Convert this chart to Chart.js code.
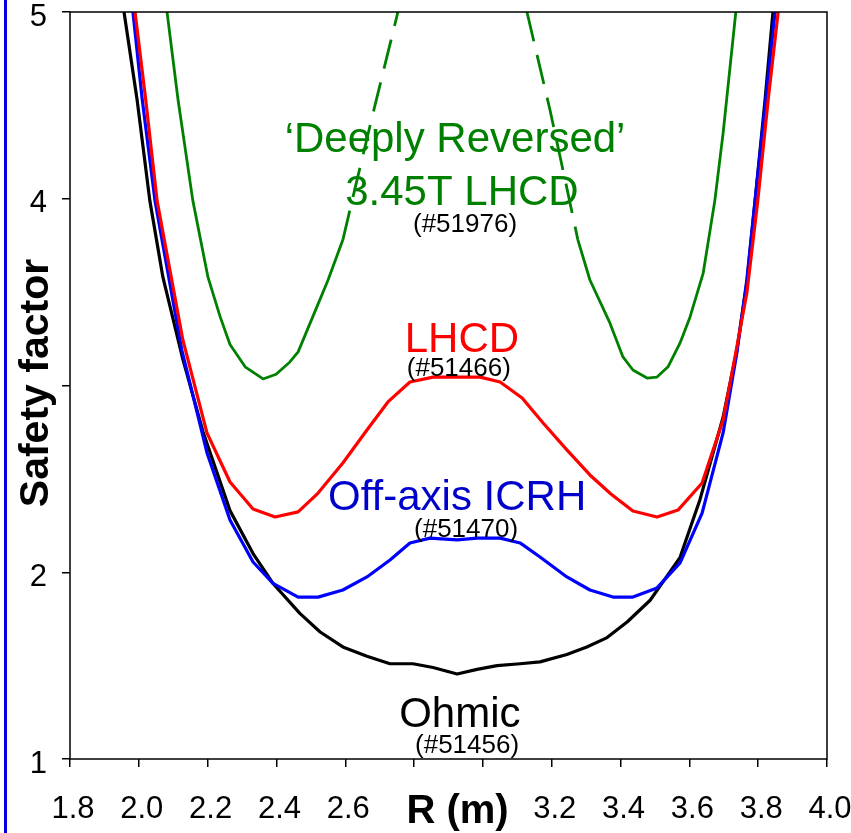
<!DOCTYPE html>
<html>
<head>
<meta charset="utf-8">
<script src="https://cdn.jsdelivr.net/npm/chart.js@4.4.0/dist/chart.umd.min.js"></script>
<style>
body { margin: 0; background: #fff; }
#wrap { position: relative; width: 851px; height: 833px; }
#q_chart { position: absolute; left: 0; top: 0; }
#edge { position: absolute; left: 4px; top: 0; width: 3px; height: 833px; background: #0000dd; }
</style>
</head>
<body>
<div id="wrap">
<canvas id="q_chart" width="851" height="833"></canvas>
<div id="edge"></div>
</div>
<script>
/* q profiles: R (m) against safety factor */

// Ohmic (#51456)
const ohmic_r = [1.957, 1.995, 2.032, 2.070, 2.128, 2.187, 2.265, 2.332, 2.390, 2.468, 2.527, 2.593, 2.663, 2.730, 2.797, 2.855, 2.925, 2.983, 3.041, 3.108, 3.166, 3.244, 3.302, 3.361, 3.420, 3.486, 3.573, 3.631, 3.698, 3.738, 3.767, 3.791, 3.820, 3.843];
const ohmic_q = [5.00, 4.53, 3.99, 3.58, 3.14, 2.75, 2.33, 2.10, 1.94, 1.78, 1.68, 1.60, 1.55, 1.51, 1.51, 1.49, 1.455, 1.48, 1.50, 1.51, 1.52, 1.56, 1.60, 1.65, 1.735, 1.85, 2.08, 2.39, 2.83, 3.19, 3.55, 3.99, 4.53, 5.00];

// Off-axis ICRH (#51470)
const icrh_r = [1.983, 2.010, 2.047, 2.125, 2.198, 2.265, 2.332, 2.390, 2.463, 2.521, 2.593, 2.663, 2.730, 2.788, 2.846, 2.925, 2.983, 3.050, 3.108, 3.166, 3.244, 3.311, 3.378, 3.436, 3.506, 3.573, 3.637, 3.698, 3.738, 3.767, 3.791, 3.822, 3.849];
const icrh_q = [5.00, 4.53, 3.99, 3.19, 2.64, 2.28, 2.055, 1.94, 1.867, 1.867, 1.905, 1.975, 2.066, 2.157, 2.183, 2.173, 2.183, 2.183, 2.157, 2.082, 1.975, 1.905, 1.867, 1.867, 1.916, 2.050, 2.317, 2.746, 3.174, 3.565, 3.993, 4.53, 5.00];

// LHCD (#51466)
const lhcd_r = [1.989, 2.020, 2.053, 2.128, 2.198, 2.265, 2.332, 2.396, 2.463, 2.521, 2.593, 2.663, 2.724, 2.788, 2.855, 2.925, 2.992, 3.050, 3.114, 3.175, 3.244, 3.311, 3.372, 3.436, 3.506, 3.567, 3.637, 3.698, 3.738, 3.767, 3.799, 3.829, 3.858];
const lhcd_q = [5.00, 4.53, 3.99, 3.244, 2.746, 2.483, 2.339, 2.296, 2.323, 2.424, 2.585, 2.762, 2.912, 3.019, 3.045, 3.045, 3.045, 3.019, 2.933, 2.799, 2.655, 2.521, 2.419, 2.328, 2.296, 2.333, 2.478, 2.815, 3.206, 3.495, 3.993, 4.53, 5.00];

// 'Deeply Reversed' 3.45T LHCD (#51976), null = break between the two core branches
const drev_r = [2.082, 2.114, 2.157, 2.201, 2.236, 2.265, 2.309, 2.361, 2.399, 2.439, 2.463, 2.506, 2.550, 2.593, 2.634, 2.681, 2.753, 2.94, 3.128, 3.195, 3.239, 3.276, 3.311, 3.369, 3.407, 3.436, 3.477, 3.506, 3.538, 3.573, 3.602, 3.640, 3.674, 3.698, 3.735];
const drev_q = [5.00, 4.53, 3.99, 3.58, 3.37, 3.22, 3.10, 3.035, 3.06, 3.126, 3.18, 3.37, 3.565, 3.78, 4.10, 4.46, 5.00, null, 5.00, 4.475, 4.10, 3.78, 3.565, 3.335, 3.153, 3.083, 3.04, 3.045, 3.10, 3.228, 3.367, 3.60, 3.99, 4.35, 5.00];

// axis ticks
const r_ticks_hidden = [2.8, 3.0];
const q_ticks_hidden = [3];

function toPoints(rs, qs) {
    return rs.map((r, i) => ({x: r, y: qs[i]}));
}

// dashed where the reversed profile climbs out near the axis
function coreDash(ctx) {
    const a = ctx.p0.parsed.x, b = ctx.p1.parsed.x;
    if (a > 2.57 && b < 3.29) return [30, 14];
    return undefined;
}

// text written on the plot
const bigFont = '42px "Liberation Sans", Arial, sans-serif';
const shotFont = '26px "Liberation Sans", Arial, sans-serif';
const notes = [
    {text: '\u2018Deeply Reversed\u2019', r: 2.919, q: 4.25, color: '#008000', font: bigFont, base: 'alphabetic'},
    {text: '3.45T LHCD', r: 2.939, q: 3.967, color: '#008000', font: bigFont, base: 'alphabetic'},
    {text: '(#51976)', r: 2.948, q: 3.859, color: '#000', font: shotFont, base: 'middle'},
    {text: 'LHCD', r: 2.939, q: 3.179, color: '#ff0000', font: bigFont, base: 'alphabetic'},
    {text: '(#51466)', r: 2.930, q: 3.088, color: '#000', font: shotFont, base: 'middle'},
    {text: 'Off-axis ICRH', r: 2.925, q: 2.333, color: '#0000cc', font: bigFont, base: 'alphabetic'},
    {text: '(#51470)', r: 2.951, q: 2.226, color: '#000', font: shotFont, base: 'middle'},
    {text: 'Ohmic', r: 2.933, q: 1.171, color: '#000', font: bigFont, base: 'alphabetic'},
    {text: '(#51456)', r: 2.954, q: 1.070, color: '#000', font: shotFont, base: 'middle'},
];

const framePlugin = {
    id: 'frame',
    afterDatasetsDraw(chart) {
        const {ctx, scales} = chart;
        ctx.save();
        ctx.textAlign = 'center';
        notes.forEach((n) => {
            ctx.font = n.font;
            ctx.fillStyle = n.color;
            ctx.textBaseline = n.base;
            ctx.fillText(n.text, scales.x.getPixelForValue(n.r), scales.y.getPixelForValue(n.q));
        });
        ctx.restore();
    },
    afterDraw(chart) {
        const {ctx, chartArea: a} = chart;
        ctx.save();
        ctx.strokeStyle = '#000';
        ctx.lineWidth = 1.5;
        ctx.strokeRect(a.left, a.top, a.right - a.left, a.bottom - a.top);
        // axis titles
        ctx.fillStyle = '#000';
        ctx.font = 'bold 40px "Liberation Sans", Arial, sans-serif';
        ctx.textAlign = 'center';
        ctx.textBaseline = 'alphabetic';
        ctx.fillText('R (m)', (a.left + a.right) / 2 + 9, 823);
        ctx.translate(48, 383);
        ctx.rotate(-Math.PI / 2);
        ctx.font = 'bold 41px "Liberation Sans", Arial, sans-serif';
        ctx.fillText('Safety factor', 0, 0);
        ctx.restore();
    }
};

const tickFont = {family: '"Liberation Sans", Arial, sans-serif', size: 31};

const q_config = {
    type: 'scatter',
    data: {
        datasets: [
            {label: 'Deeply Reversed', data: toPoints(drev_r, drev_q), borderColor: '#008000', borderWidth: 2.8,
             segment: {borderDash: coreDash}},
            {label: 'LHCD', data: toPoints(lhcd_r, lhcd_q), borderColor: '#ff0000', borderWidth: 3.2},
            {label: 'Off-axis ICRH', data: toPoints(icrh_r, icrh_q), borderColor: '#0000ff', borderWidth: 3.2},
            {label: 'Ohmic', data: toPoints(ohmic_r, ohmic_q), borderColor: '#000000', borderWidth: 3.2},
        ]
    },
    options: {
        responsive: false,
        animation: false,
        showLine: true,
        spanGaps: false,
        elements: {
            point: {radius: 0, hoverRadius: 0},
            line: {tension: 0, fill: false, borderJoinStyle: 'round'}
        },
        layout: {padding: {top: 12, right: 24, left: 0, bottom: 0}},
        plugins: {
            legend: {display: false},
            tooltip: {enabled: false}
        },
        scales: {
            x: {
                type: 'linear',
                min: 1.8,
                max: 4.0,
                afterFit: (axis) => {
                    axis.height = 74;
                    axis.paddingLeft = 0;
                    axis.paddingRight = 0;
                },
                border: {display: false},
                grid: {drawOnChartArea: false, drawTicks: true, tickLength: 8, color: '#000', lineWidth: 1.5},
                ticks: {
                    stepSize: 0.2,
                    color: '#000',
                    font: tickFont,
                    padding: 24,
                    labelOffset: 3,
                    maxRotation: 0,
                    autoSkip: false,
                    callback: function(value) {
                        const v = Math.round(value * 10) / 10;
                        if (r_ticks_hidden.includes(v)) return '';
                        return v.toFixed(1);
                    }
                }
            },
            y: {
                type: 'linear',
                min: 1,
                max: 5,
                afterFit: (axis) => {
                    axis.width = 70;
                    axis.paddingTop = 0;
                    axis.paddingBottom = 0;
                },
                border: {display: false},
                grid: {drawOnChartArea: false, drawTicks: true, tickLength: 8, color: '#000', lineWidth: 1.5},
                ticks: {
                    stepSize: 1,
                    color: '#000',
                    font: tickFont,
                    padding: 15,
                    labelOffset: 5,
                    callback: function(value) {
                        if (q_ticks_hidden.includes(value)) return '';
                        return value;
                    }
                }
            }
        }
    },
    plugins: [framePlugin]
};

const qChart = new Chart(
    document.getElementById('q_chart'),
    q_config
);
</script>
</body>
</html>
